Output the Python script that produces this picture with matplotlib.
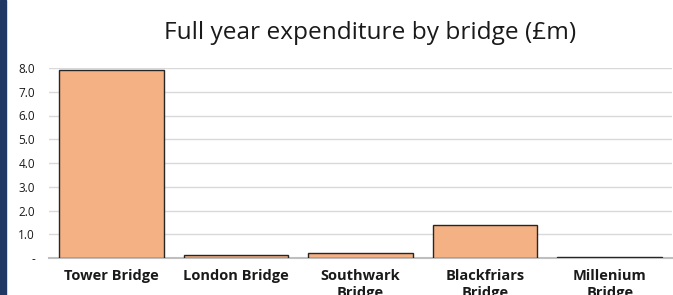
import matplotlib.pyplot as plt
import matplotlib.patches as mpatches

bridges = ["Tower Bridge", "London Bridge", "Southwark\nBridge", "Blackfriars\nBridge", "Millenium\nBridge"]
spend = [7.9, 0.13, 0.19, 1.37, 0.06]
yticks = [0, 1, 2, 3, 4, 5, 6, 7, 8]
ylabels = ["-", "1.0", "2.0", "3.0", "4.0", "5.0", "6.0", "7.0", "8.0"]

fig = plt.figure(figsize=(6.73, 2.95), dpi=100)
fig.patches.append(mpatches.Rectangle((0, 0), 6 / 673, 1, transform=fig.transFigure,
                                      color="#1f3864", zorder=0))

ax = fig.add_axes([49 / 673, 37 / 295, 623 / 673, 190 / 295])
x = range(len(bridges))
ax.bar(x, spend, width=0.84, color="#f4b183", edgecolor="#262626", linewidth=1.0, zorder=3)

ax.set_xlim(-0.5, len(bridges) - 0.5)
ax.set_ylim(0, 8)
ax.set_yticks(yticks)
ax.set_yticklabels(ylabels, fontsize=8.5, family="Open Sans", color="#1a1a1a")
ax.set_xticks(list(x))
ax.set_xticklabels(bridges, fontsize=10.5, family="Open Sans", fontweight="bold",
                   verticalalignment="top", linespacing=1.3, color="#1a1a1a")
ax.tick_params(axis="y", length=0, pad=10)
ax.tick_params(axis="x", length=0, pad=8)
ax.grid(axis="y", color="#d9d9d9", linewidth=1.0, zorder=0)
for side in ["top", "right", "left"]:
    ax.spines[side].set_visible(False)
ax.spines["bottom"].set_color("#bfbfbf")
ax.spines["bottom"].set_linewidth(1.5)

fig.text(370 / 673, 1 - 33 / 295, "Full year expenditure by bridge (£m)", ha="center", va="center",
         fontsize=17.6, family="Open Sans", color="#1a1a1a")

fig.savefig("out.png", dpi=100)
